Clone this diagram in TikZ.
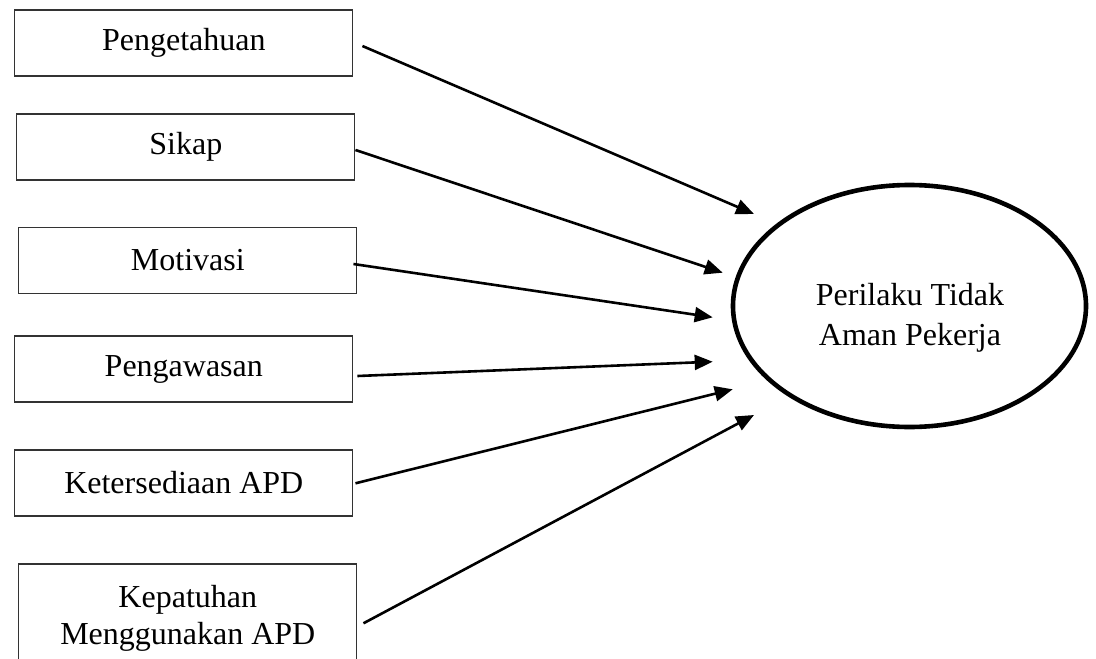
\documentclass[tikz,border=0pt]{standalone}
\usepackage{fontspec}
\setmainfont{Liberation Serif}
\usetikzlibrary{arrows.meta,shapes.geometric}
\begin{document}
\begin{tikzpicture}[x=1pt,y=-1pt,
  box/.style={draw=black!80,line width=1.3pt,rectangle,minimum width=338pt,minimum height=66pt,inner sep=0pt,align=center,font=\fontsize{32}{37}\selectfont},
  arr/.style={line width=2.6pt,-{Triangle[length=18pt,width=15pt]}},
  txt/.style={align=center,font=\fontsize{32}{40}\selectfont,inner sep=0pt}]
\useasboundingbox (0,0) rectangle (1096,659);
\clip (0,0) rectangle (1096,659);
\node[box] (b1) at (183.8,43) {Pengetahuan};
\node[box] (b2) at (185.8,147) {Sikap};
\node[box] (b3) at (187.8,260.5) {Motivasi};
\node[box] (b4) at (183.8,369) {Pengawasan};
\node[box] (b5) at (183.8,483) {Ketersediaan APD};
\node[box,minimum height=108pt] (b6) at (187.8,618) {Kepatuhan\\Menggunakan APD};
\node[draw,ellipse,line width=4.6pt,minimum width=353pt,minimum height=242pt,inner sep=0pt] (e) at (909.5,306) {};
\node[txt] (et) at (910,318) {Perilaku Tidak\\Aman Pekerja};
\coordinate (t1) at (754,214);
\coordinate (t2) at (722.7,272.7);
\coordinate (t3) at (712.7,317.3);
\coordinate (t4) at (712.7,361.7);
\coordinate (t5) at (732.7,389.3);
\coordinate (t6) at (754,415);
\draw[arr] ([shift={(9,3)}]b1.east) -- (t1);
\draw[arr] ([shift={(0,3)}]b2.east) -- (t2);
\draw[arr] ([shift={(-4,3.5)}]b3.east) -- (t3);
\draw[arr] ([shift={(4,7)}]b4.east) -- (t4);
\draw[arr] ([shift={(2,0.3)}]b5.east) -- (t5);
\draw[arr] ([shift={(6,5.3)}]b6.east) -- (t6);
\end{tikzpicture}
\end{document}
